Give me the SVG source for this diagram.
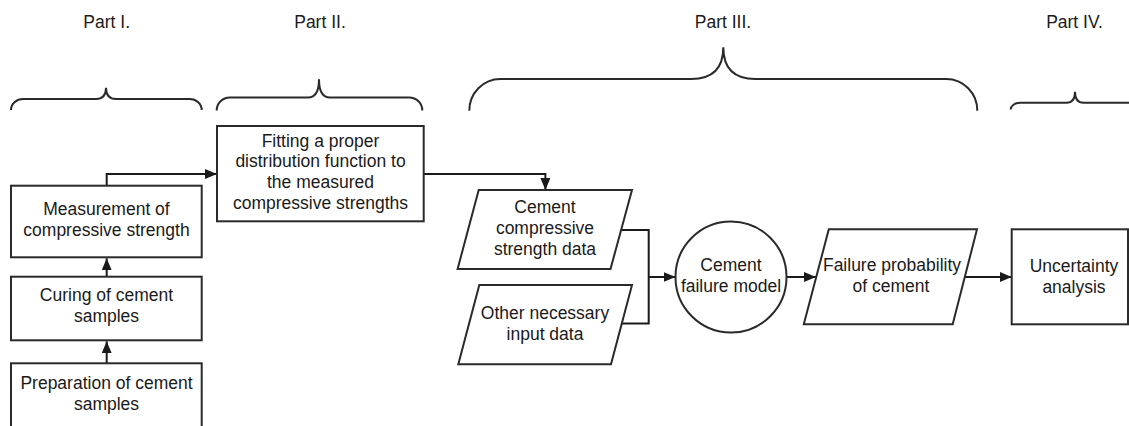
<svg xmlns="http://www.w3.org/2000/svg" width="1129" height="426" viewBox="0 0 1129 426">
  <defs>
    <style>
      .shape { fill: #ffffff; stroke: #2a2a2a; stroke-width: 2; }
      .brace { fill: none; stroke: #2a2a2a; stroke-width: 2; }
      .wire { fill: none; stroke: #1a1a1a; stroke-width: 2; }
      text { font-family: "Liberation Sans", Arial, sans-serif; font-size: 17.5px; fill: #1a1a1a; text-anchor: middle; }
    </style>
    <marker id="arrow" viewBox="0 0 12 10" refX="12" refY="5" markerWidth="12" markerHeight="10" markerUnits="userSpaceOnUse" orient="auto">
      <path d="M0,0 L12,5 L0,10 Z" fill="#1a1a1a"/>
    </marker>
  </defs>

  <rect width="1129" height="426" fill="#ffffff"/>

  <!-- Part headings -->
  <g id="headings">
    <text x="106.7" y="28">Part I.</text>
    <text x="320" y="28">Part II.</text>
    <text x="723" y="28">Part III.</text>
    <text x="1074.5" y="28">Part IV.</text>
  </g>

  <!-- Curly braces grouping each part -->
  <g id="braces">
    <path class="brace" d="M11,110 A12,11 0 0 1 23,99 H96 Q106,99 106,87.7 Q106,99 116,99 H189.7 A12,11 0 0 1 201.7,110"/>
    <path class="brace" d="M216.7,110.5 A13,13 0 0 1 229.7,97.5 H308 Q319,97.5 319,79.3 Q319,97.5 330,97.5 H409.3 A13,13 0 0 1 422.3,110.5"/>
    <path class="brace" d="M469.3,110.7 A31,31.7 0 0 1 500.3,79 H691.3 Q723.3,79 723.3,47.3 Q723.3,79 755.3,79 H946.3 A31,31.7 0 0 1 977.3,110.7"/>
    <path class="brace" d="M1010.7,109.5 A9.5,6.8 0 0 1 1020.2,102.7 H1066.5 Q1075,102.7 1075,91.7 Q1075,102.7 1083.5,102.7 H1140"/>
  </g>

  <!-- Connectors -->
  <g id="connectors">
    <path class="wire" d="M106.7,363.3 V341.3" marker-end="url(#arrow)"/>
    <path class="wire" d="M106.7,276.7 V258.3" marker-end="url(#arrow)"/>
    <path class="wire" d="M106.7,185.7 V174 H217" marker-end="url(#arrow)"/>
    <path class="wire" d="M423.7,174 H545.4 V190" marker-end="url(#arrow)"/>
    <path class="wire" d="M621.1,230 H648.7 V323.5 H621.8"/>
    <path class="wire" d="M648.7,277 H675.5" marker-end="url(#arrow)"/>
    <path class="wire" d="M786.5,277 H816" marker-end="url(#arrow)"/>
    <path class="wire" d="M964.8,277 H1011.7" marker-end="url(#arrow)"/>
  </g>

  <!-- Part I: sample preparation and testing -->
  <g id="preparation">
    <rect class="shape" x="11" y="363.3" width="190.7" height="70"/>
    <text x="106.5" y="388.5">Preparation of cement</text>
    <text x="106.5" y="409.5">samples</text>
  </g>
  <g id="curing">
    <rect class="shape" x="11" y="276.7" width="190.7" height="63.6"/>
    <text x="106.5" y="301">Curing of cement</text>
    <text x="106.5" y="322">samples</text>
  </g>
  <g id="measurement">
    <rect class="shape" x="11" y="185.7" width="190.7" height="71.6"/>
    <text x="106.5" y="214.5">Measurement of</text>
    <text x="106.5" y="235.5">compressive strength</text>
  </g>

  <!-- Part II: distribution fitting -->
  <g id="fitting">
    <rect class="shape" x="217" y="126" width="206.7" height="95.3"/>
    <text x="320.5" y="146.5">Fitting a proper</text>
    <text x="320.5" y="167.3">distribution function to</text>
    <text x="320.5" y="188.1">the measured</text>
    <text x="320.5" y="208.9">compressive strengths</text>
  </g>

  <!-- Part III: failure model and its inputs -->
  <g id="strength-data">
    <polygon class="shape" points="478.7,190 632,190 610.5,269 457.6,269"/>
    <text x="545" y="213">Cement</text>
    <text x="545" y="234">compressive</text>
    <text x="545" y="255">strength data</text>
  </g>
  <g id="other-input">
    <polygon class="shape" points="479.3,285 632,285 611,364.3 458.3,364.3"/>
    <text x="545" y="319.3">Other necessary</text>
    <text x="545" y="340">input data</text>
  </g>
  <g id="failure-model">
    <circle class="shape" cx="731" cy="277" r="55.5"/>
    <text x="731" y="271">Cement</text>
    <text x="731" y="292">failure model</text>
  </g>
  <g id="failure-probability">
    <polygon class="shape" points="828.8,229.3 977,229.3 952.7,324.3 803.8,324.3"/>
    <text x="892" y="271">Failure probability</text>
    <text x="891" y="292">of cement</text>
  </g>

  <!-- Part IV: uncertainty analysis -->
  <g id="uncertainty">
    <rect class="shape" x="1011.7" y="229.3" width="116.3" height="95"/>
    <text x="1074" y="271.5">Uncertainty</text>
    <text x="1074" y="292.5">analysis</text>
  </g>
</svg>
